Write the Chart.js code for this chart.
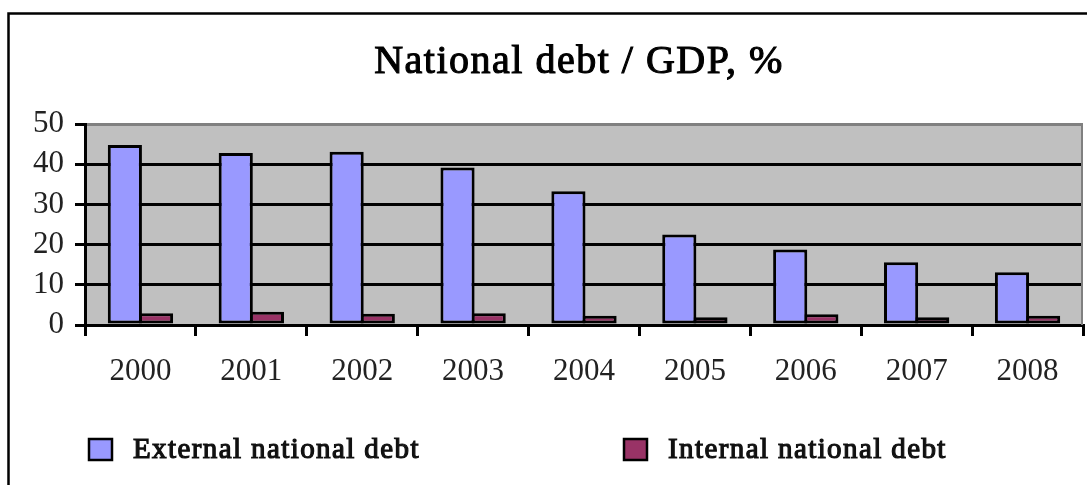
<!DOCTYPE html>
<html>
<head>
<meta charset="utf-8">
<script src="https://cdn.jsdelivr.net/npm/chart.js@4.4.1/dist/chart.umd.min.js"></script>
<style>
  html, body { margin: 0; padding: 0; background: #fff; }
  canvas { display: block; }
</style>
</head>
<body>
<canvas id="debtChart" width="1087" height="485"></canvas>
<script>
const chartTitle = 'National debt / GDP, %';
const years = ['2000', '2001', '2002', '2003', '2004', '2005', '2006', '2007', '2008'];
const externalDebt = [44.8, 42.8, 43.1, 39.2, 33.3, 22.5, 18.8, 15.6, 13.1];
const internalDebt = [2.9, 3.3, 2.8, 2.9, 2.3, 1.9, 2.7, 1.9, 2.3];
const seriesNames = ['External national debt', 'Internal national debt'];
const yTicks = [0, 10, 20, 30, 40, 50];

const serif = "'Liberation Serif', 'Times New Roman', serif";

// white page, grey plot area and the outer frame
const backdrop = {
    id: 'backdrop',
    beforeDraw(chart) {
        const { ctx, chartArea: a } = chart;
        ctx.save();
        ctx.fillStyle = '#fff';
        ctx.fillRect(0, 0, chart.width, chart.height);
        ctx.fillStyle = '#c0c0c0';
        ctx.fillRect(a.left, a.top, a.right - a.left, a.bottom - a.top);
        ctx.strokeStyle = '#000';
        ctx.lineWidth = 2.5;
        ctx.strokeRect(8.5, 13.5, chart.width + 20, chart.height + 20);
        ctx.restore();
    },
    beforeDatasetsDraw(chart) {
        const { ctx, chartArea: a } = chart;
        ctx.save();
        ctx.strokeStyle = '#808080';
        ctx.lineWidth = 2;
        ctx.beginPath();
        ctx.moveTo(a.right - 1, a.top);
        ctx.lineTo(a.right - 1, a.bottom);
        ctx.stroke();
        ctx.restore();
    }
};

// semi-bold look: regular face, a thin stroke and a little letter spacing
function heavyText(ctx, text, x, y, size, spacing, stroke) {
    ctx.font = size + 'px ' + serif;
    ctx.letterSpacing = spacing + 'px';
    ctx.fillText(text, x, y);
    ctx.lineWidth = stroke;
    ctx.strokeText(text, x, y);
    ctx.letterSpacing = '0px';
}

// title over the plot area and a wide legend row at the bottom
const titleAndLegend = {
    id: 'titleAndLegend',
    afterDraw(chart) {
        const { ctx, chartArea: a } = chart;
        ctx.save();
        ctx.fillStyle = '#000';
        ctx.strokeStyle = '#000';
        ctx.textAlign = 'center';
        ctx.textBaseline = 'middle';
        heavyText(ctx, chartTitle, (a.left + a.right) / 2 - 5, 62, 40, 1.5, 1.1);

        const xs = [89, 624];
        chart.data.datasets.forEach((ds, i) => {
            ctx.fillStyle = ds.backgroundColor;
            ctx.fillRect(xs[i], 439, 23, 21);
            ctx.strokeStyle = '#000';
            ctx.lineWidth = 2.5;
            ctx.strokeRect(xs[i], 439, 23, 21);
            ctx.fillStyle = '#111';
            ctx.strokeStyle = '#111';
            ctx.textAlign = 'left';
            heavyText(ctx, ds.label, xs[i] + 44, 450, 29, 1.4, 1.2);
        });
        ctx.restore();
    }
};

new Chart(document.getElementById('debtChart'), {
    type: 'bar',
    data: {
        labels: years,
        datasets: [{
            label: seriesNames[0],
            data: externalDebt,
            backgroundColor: '#9999ff',
            borderColor: '#000',
            borderWidth: 3,
            borderSkipped: false
        }, {
            label: seriesNames[1],
            data: internalDebt,
            backgroundColor: '#993366',
            borderColor: '#000',
            borderWidth: 3,
            borderSkipped: false
        }]
    },
    options: {
        responsive: false,
        animation: false,
        categoryPercentage: 0.562,
        barPercentage: 1.096,
        layout: {
            padding: { top: 124, right: 4, bottom: 100, left: 0 }
        },
        plugins: {
            legend: { display: false },
            title: { display: false },
            tooltip: { enabled: false }
        },
        scales: {
            x: {
                offset: true,
                grid: {
                    offset: true,
                    drawOnChartArea: false,
                    drawTicks: true,
                    tickLength: 11,
                    tickColor: '#000',
                    lineWidth: 3
                },
                border: { color: '#000', width: 3 },
                ticks: {
                    padding: 17,
                    color: '#222',
                    font: { family: serif, size: 31 }
                },
                afterFit(scale) { scale.height = 60; }
            },
            y: {
                min: 0,
                max: 50,
                afterBuildTicks(scale) {
                    scale.ticks = yTicks.map(v => ({ value: v }));
                },
                grid: {
                    color: ctx => (ctx.tick && ctx.tick.value === 50 ? '#808080' : '#000'),
                    lineWidth: 3,
                    tickColor: '#000',
                    tickLength: 10
                },
                border: { color: '#000', width: 3 },
                ticks: {
                    padding: 11,
                    color: '#222',
                    font: { family: serif, size: 31 }
                },
                afterFit(scale) { scale.width = 85; }
            }
        }
    },
    plugins: [backdrop, titleAndLegend]
});
</script>
</body>
</html>
